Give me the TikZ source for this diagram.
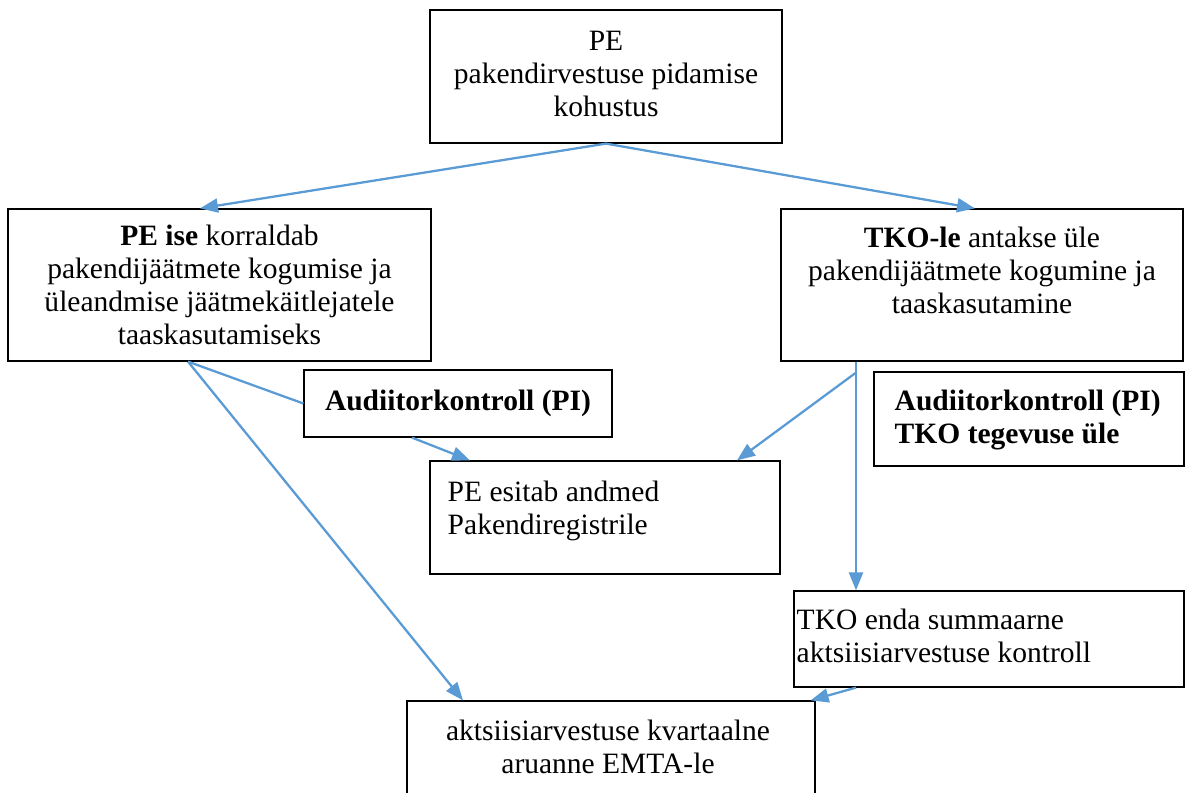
\documentclass[tikz,border=0pt]{standalone}
\usepackage{fontspec}
\setmainfont{Liberation Serif}
\usepackage{tikz}
\usetikzlibrary{arrows.meta}
\definecolor{linkblue}{HTML}{5B9BD5}

\begin{document}
\begin{tikzpicture}[box/.style={draw=black, line width=0.7pt, inner sep=0pt},
                txt/.style={inner sep=0pt, font=\fontsize{16.8}{18.9}\selectfont},
                link/.style={draw=linkblue, line width=1.3pt},
                arr/.style={link, -{Triangle[length=0.36cm,width=0.28cm]}}]

            \useasboundingbox (0,0) rectangle (23.7,-15.84);

            \node[box, minimum width=7.04cm, minimum height=2.66cm] (pe) at (12.12,-1.53) {};
            \node[txt, anchor=north, align=center] (pet) at ([yshift=-0.42cm]pe.north) {PE\\pakendirvestuse pidamise\\kohustus};

            \node[box, minimum width=8.46cm, minimum height=3.04cm] (ise) at (4.39,-5.7) {};
            \node[txt, anchor=north, align=center] (iset) at ([yshift=-0.32cm]ise.north) {\textbf{PE ise} korraldab\\pakendijäätmete kogumise ja\\üleandmise jäätmekäitlejatele\\taaskasutamiseks};

            \node[box, minimum width=8.04cm, minimum height=3.04cm] (tko) at (19.64,-5.7) {};
            \node[txt, anchor=north, align=center] (tkot) at ([yshift=-0.36cm]tko.north) {\textbf{TKO-le} antakse üle\\pakendijäätmete kogumine ja\\taaskasutamine};

            \node[box, txt, minimum width=6.16cm, minimum height=1.34cm, font=\fontsize{16.8}{18.9}\selectfont\bfseries] (audit) at (9.16,-8.07) {Audiitorkontroll (PI)};

            \node[box, minimum width=6.2cm, minimum height=1.88cm] (tkoaudit) at (20.58,-8.38) {};
            \node[txt, anchor=north west, align=left, font=\fontsize{16.8}{18.9}\selectfont\bfseries] (tkoauditt) at ([xshift=0.42cm,yshift=-0.36cm]tkoaudit.north west) {Audiitorkontroll (PI)\\TKO tegevuse üle};

            \node[box, minimum width=7cm, minimum height=2.26cm] (reg) at (12.1,-10.35) {};
            \node[txt, anchor=north west, align=left] (regt) at ([xshift=0.36cm,yshift=-0.4cm]reg.north west) {PE esitab andmed\\Pakendiregistrile};

            \node[box, minimum width=7.8cm, minimum height=1.92cm] (sum) at (19.78,-12.78) {};
            \node[txt, anchor=north west, align=left] (sumt) at ([xshift=0.06cm,yshift=-0.36cm]sum.north west) {TKO enda summaarne\\aktsiisiarvestuse kontroll};

            \node[box, minimum width=8.16cm, minimum height=2.4cm] (emta) at (12.22,-15.22) {};
            \node[txt, anchor=north, align=center] (emtat) at ([xshift=-0.06cm,yshift=-0.38cm]emta.north) {aktsiisiarvestuse kvartaalne\\aruanne EMTA-le};

            \coordinate (split) at ([xshift=-2.52cm,yshift=-0.22cm]tko.south);

            \path
            (pe.south) edge [arr] ([xshift=-0.39cm]ise.north)
            (pe.south) edge [arr] ([xshift=-0.14cm]tko.north)
            ([xshift=-0.63cm]ise.south) edge [link] (audit.west)
            ([xshift=-0.63cm]ise.south) edge [arr] ([xshift=-2.96cm]emta.north)
            ([xshift=-0.92cm]audit.south) edge [arr] ([xshift=-2.7cm]reg.north)
            ([xshift=-2.52cm]tko.south) edge [arr] (split |- sum.north)
            (split) edge [arr] ([xshift=2.64cm]reg.north)
            (split |- sum.south) edge [arr] ([xshift=-0.1cm]emta.north east);

        \end{tikzpicture}
\end{document}
